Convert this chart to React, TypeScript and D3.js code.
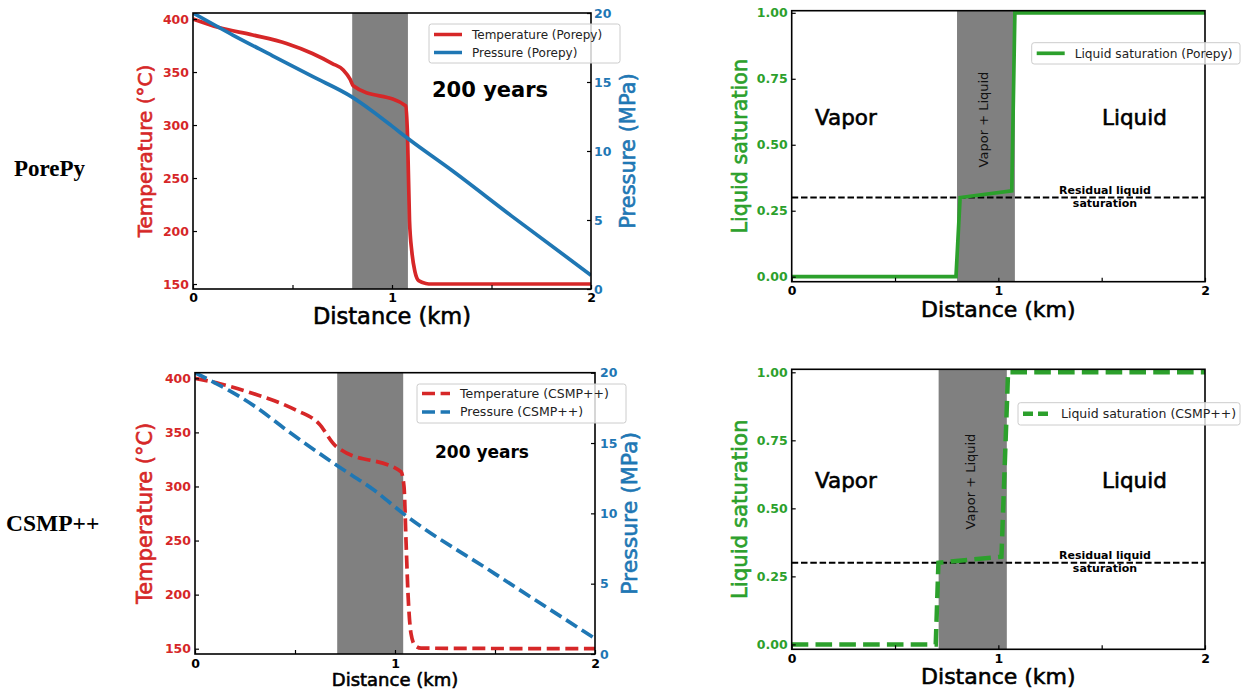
import React, { useEffect, useRef } from 'react';
import * as d3 from 'd3';

// distance along the profile (km) and values
const tempDistPorepy = [0, 0.13, 0.3, 0.47, 0.6, 0.7, 0.755, 0.79, 0.805, 1.07, 1.078, 1.088, 1.1, 1.115, 1.135, 1.17, 1.2, 2.0];
const tempPorepy = [400, 392, 385, 377, 367.5, 358, 352, 343, 337, 318, 290, 210, 180, 162, 153, 150.5, 150, 150];
const presDistPorepy = [0, 0.2, 0.4, 0.6, 0.8, 0.9, 1.0, 1.08, 1.3, 1.6, 2.0];
const presPorepy = [20, 18.4, 16.9, 15.4, 13.9, 12.9, 11.8, 10.9, 8.6, 5.3, 1.0];

const tempDistCsmp = [0, 0.125, 0.29, 0.5, 0.62, 0.7, 0.73, 1.03, 1.045, 1.055, 1.065, 1.08, 1.1, 1.13, 2.0];
const tempCsmp = [400, 395, 386, 371, 358, 338, 334, 313.6, 300, 250, 201, 164, 153, 150.5, 150];
const presDistCsmp = [0, 0.3, 0.46, 0.71, 0.9, 1.04, 1.5, 2.0];
const presCsmp = [20, 17.6, 15.9, 13.4, 11.6, 10.0, 5.7, 1.1];

const satDistPorepy = [0, 0.795, 0.815, 1.065, 1.08, 2.0];
const satPorepy = [0, 0, 0.3, 0.325, 1.0, 1.0];
const satDistCsmp = [0, 0.697, 0.71, 1.015, 1.047, 2.0];
const satCsmp = [0, 0, 0.3, 0.322, 1.0, 1.0];

// two-phase (vapor + liquid) zone, km
const twoPhasePorepy = [0.8, 1.08];
const twoPhaseCsmp = [0.711, 1.041];
const residualSat = 0.3;

const distTicks = [0, 0.5, 1, 1.5, 2];
const distTickLabels = ['0', '', '1', '', '2'];
const tempTicks = [150, 200, 250, 300, 350, 400];
const presTicks = [0, 5, 10, 15, 20];
const satTicks = [0, 0.25, 0.5, 0.75, 1];

const RED = '#d62728';
const BLUE = '#1f77b4';
const GREEN = '#2ca02c';
const FONT = 'DejaVu Sans, sans-serif';

const zip = (xs, ys) => xs.map((d, i) => [d, ys[i]]);

// heavier look for the big labels (source is a downscaled raster)
const heavy = (sel, color, w = 0.6) =>
  sel.attr('fill', color).attr('stroke', color).attr('stroke-width', w).attr('paint-order', 'stroke');

function spinesAndDist(g, x, o) {
  const ax = g.append('g').attr('transform', `translate(0,${o.bottom})`)
    .call(d3.axisBottom(x).tickValues(distTicks).tickSize(-4).tickPadding(o.xPad)
      .tickFormat((d, i) => distTickLabels[i]));
  ax.select('.domain').remove();
  ax.selectAll('line').attr('stroke', '#000').attr('stroke-width', 1.2);
  ax.selectAll('text').attr('fill', '#000').style('font', `bold 12.5px ${FONT}`);
  g.append('rect').attr('x', o.left).attr('y', o.top)
    .attr('width', o.right - o.left).attr('height', o.bottom - o.top)
    .attr('fill', 'none').attr('stroke', '#000').attr('stroke-width', 1.6);
  heavy(g.append('text').attr('x', (o.left + o.right) / 2).attr('y', o.xLabelY)
    .attr('text-anchor', 'middle').style('font', `${o.xLabelSize}px ${FONT}`), '#000')
    .text('Distance (km)');
}

function legend(g, o, items) {
  g.append('rect').attr('x', o.lx).attr('y', o.ly).attr('width', o.lw).attr('height', o.lh)
    .attr('rx', 2.5).attr('fill', '#fff').attr('fill-opacity', 0.8)
    .attr('stroke', '#cccccc').attr('stroke-width', 1);
  items.forEach((it, i) => {
    const cy = o.ly + o.lFirst + i * o.lStep;
    g.append('line').attr('x1', o.lx + 5).attr('x2', o.lx + 33).attr('y1', cy).attr('y2', cy)
      .attr('stroke', it.color).attr('stroke-width', it.width)
      .attr('stroke-dasharray', it.dash || null);
    g.append('text').attr('x', o.lx + 43).attr('y', cy).attr('dy', '0.35em')
      .style('font', `${o.lFont}px ${FONT}`).attr('fill', '#222').text(it.label);
  });
}

function drawThermal(svg, o) {
  const g = svg.append('g');
  const x = d3.scaleLinear().domain([0, 2]).range([o.left, o.right]);
  const yT = d3.scaleLinear().domain(o.tDomain).range([o.bottom, o.top]);
  const yP = d3.scaleLinear().domain([0, 20]).range([o.bottom, o.top]);

  g.append('clipPath').attr('id', o.id).append('rect')
    .attr('x', o.left).attr('y', o.top).attr('width', o.right - o.left).attr('height', o.bottom - o.top);

  g.append('rect').attr('x', x(o.band[0])).attr('y', o.top)
    .attr('width', x(o.band[1]) - x(o.band[0])).attr('height', o.bottom - o.top).attr('fill', '#808080');

  const plot = g.append('g').attr('clip-path', `url(#${o.id})`);
  plot.append('path').datum(zip(o.tDist, o.temp))
    .attr('d', d3.line().x(d => x(d[0])).y(d => yT(d[1])).curve(d3.curveMonotoneX))
    .attr('fill', 'none').attr('stroke', RED).attr('stroke-width', 3.7)
    .attr('stroke-dasharray', o.dash || null);
  plot.append('path').datum(zip(o.pDist, o.pres))
    .attr('d', d3.line().x(d => x(d[0])).y(d => yP(d[1])).curve(d3.curveMonotoneX))
    .attr('fill', 'none').attr('stroke', BLUE).attr('stroke-width', 3.7)
    .attr('stroke-dasharray', o.dash || null);

  const ay = g.append('g').attr('transform', `translate(${o.left},0)`)
    .call(d3.axisLeft(yT).tickValues(tempTicks).tickSize(-4).tickPadding(4));
  ay.select('.domain').remove();
  ay.selectAll('line').attr('stroke', '#000').attr('stroke-width', 1.2);
  ay.selectAll('text').attr('fill', RED).style('font', `bold 12.5px ${FONT}`);

  const ap = g.append('g').attr('transform', `translate(${o.right},0)`)
    .call(d3.axisRight(yP).tickValues(presTicks).tickSize(-4).tickPadding(o.rPad));
  ap.select('.domain').remove();
  ap.selectAll('line').attr('stroke', '#000').attr('stroke-width', 1.2);
  ap.selectAll('text').attr('fill', BLUE).style('font', `bold 12.5px ${FONT}`);

  spinesAndDist(g, x, o);

  const cy = (o.top + o.bottom) / 2;
  heavy(g.append('text').attr('transform', `translate(${o.tLabelX},${cy}) rotate(-90)`)
    .attr('text-anchor', 'middle').style('font', `${o.tLabelSize}px ${FONT}`), RED)
    .text('Temperature (°C)');
  heavy(g.append('text').attr('transform', `translate(${o.pLabelX},${cy}) rotate(-90)`)
    .attr('text-anchor', 'middle').style('font', `${o.pLabelSize}px ${FONT}`), BLUE)
    .text('Pressure (MPa)');

  g.append('text').attr('x', o.yearsX).attr('y', o.yearsY)
    .style('font', `bold ${o.yearsSize}px ${FONT}`).attr('fill', '#000').text('200 years');

  legend(g, o, [
    { label: `Temperature (${o.model})`, color: RED, width: 3.5, dash: o.dash },
    { label: `Pressure (${o.model})`, color: BLUE, width: 3.5, dash: o.dash },
  ]);
}

function drawSaturation(svg, o) {
  const g = svg.append('g');
  const x = d3.scaleLinear().domain([0, 2]).range([o.left, o.right]);
  const y = d3.scaleLinear().domain(o.sDomain).range([o.bottom, o.top]);

  g.append('clipPath').attr('id', o.id).append('rect')
    .attr('x', o.left).attr('y', o.top).attr('width', o.right - o.left).attr('height', o.bottom - o.top);

  g.append('rect').attr('x', x(o.band[0])).attr('y', o.top)
    .attr('width', x(o.band[1]) - x(o.band[0])).attr('height', o.bottom - o.top).attr('fill', '#808080');

  g.append('line').attr('x1', o.left).attr('x2', o.right)
    .attr('y1', y(residualSat)).attr('y2', y(residualSat))
    .attr('stroke', '#000').attr('stroke-width', 1.8).attr('stroke-dasharray', '6.5,2.8');

  const plot = g.append('g').attr('clip-path', `url(#${o.id})`);
  plot.append('path').datum(zip(o.sDist, o.sat))
    .attr('d', d3.line().x(d => x(d[0])).y(d => y(d[1])))
    .attr('fill', 'none').attr('stroke', GREEN).attr('stroke-width', o.lineW)
    .attr('stroke-dasharray', o.dash || null);

  const ay = g.append('g').attr('transform', `translate(${o.left},0)`)
    .call(d3.axisLeft(y).tickValues(satTicks).tickSize(-4).tickPadding(4).tickFormat(d3.format('.2f')));
  ay.select('.domain').remove();
  ay.selectAll('line').attr('stroke', '#000').attr('stroke-width', 1.2);
  ay.selectAll('text').attr('fill', GREEN).style('font', `bold 12.5px ${FONT}`);

  spinesAndDist(g, x, o);

  heavy(g.append('text').attr('transform', `translate(${o.sLabelX},${(o.top + o.bottom) / 2}) rotate(-90)`)
    .attr('text-anchor', 'middle').style('font', `${o.sLabelSize}px ${FONT}`), GREEN)
    .text('Liquid saturation');

  heavy(g.append('text').attr('x', 815).attr('y', o.phaseY).style('font', `21.5px ${FONT}`), '#000')
    .text('Vapor');
  heavy(g.append('text').attr('x', 1102).attr('y', o.phaseY).style('font', `21.5px ${FONT}`), '#000')
    .text('Liquid');
  g.append('text').attr('transform', `translate(${o.mixX},${o.mixY}) rotate(-90)`)
    .attr('text-anchor', 'middle').style('font', `13px ${FONT}`).attr('fill', '#111')
    .text('Vapor + Liquid');

  const ry = y(residualSat);
  g.append('text').attr('x', 1105).attr('y', ry - 3.5).attr('text-anchor', 'middle')
    .style('font', `bold 11px ${FONT}`).text('Residual liquid');
  g.append('text').attr('x', 1105).attr('y', ry + 9.5).attr('text-anchor', 'middle')
    .style('font', `bold 11px ${FONT}`).text('saturation');

  legend(g, o, [{ label: `Liquid saturation (${o.model})`, color: GREEN, width: o.lineW, dash: o.legendDash || o.dash }]);
}

export default function App() {
  const ref = useRef(null);

  useEffect(() => {
    const svg = d3.select(ref.current);
    svg.selectAll('*').remove();

    drawThermal(svg, {
      id: 'clipTL', model: 'Porepy', left: 193, right: 591, top: 13, bottom: 289,
      tDomain: [145.3, 405.7], band: twoPhasePorepy,
      tDist: tempDistPorepy, temp: tempPorepy, pDist: presDistPorepy, pres: presPorepy,
      xPad: 4, rPad: 3, xLabelY: 324, xLabelSize: 22.5,
      tLabelX: 152, tLabelSize: 20, pLabelX: 635, pLabelSize: 21,
      yearsX: 432, yearsY: 97, yearsSize: 21,
      lx: 429, ly: 24, lw: 191, lh: 39, lFirst: 10.5, lStep: 18, lFont: 12,
    });

    drawThermal(svg, {
      id: 'clipBL', model: 'CSMP++', left: 195, right: 595, top: 372.7, bottom: 654,
      tDomain: [145.1, 405.2], band: twoPhaseCsmp, dash: '13,5.6',
      tDist: tempDistCsmp, temp: tempCsmp, pDist: presDistCsmp, pres: presCsmp,
      xPad: 5, rPad: 5, xLabelY: 686, xLabelSize: 18,
      tLabelX: 152, tLabelSize: 21, pLabelX: 637, pLabelSize: 22,
      yearsX: 435, yearsY: 458, yearsSize: 17,
      lx: 417, ly: 384, lw: 209, lh: 39, lFirst: 9.5, lStep: 18.4, lFont: 12.5,
    });

    drawSaturation(svg, {
      id: 'clipTR', model: 'Porepy', left: 791.7, right: 1205, top: 10.7, bottom: 281.7,
      sDomain: [-0.019, 1.008], band: twoPhasePorepy, lineW: 3.7,
      sDist: satDistPorepy, sat: satPorepy,
      xPad: 4, xLabelY: 317, xLabelSize: 22, sLabelX: 747, sLabelSize: 20.7,
      phaseY: 125, mixX: 988, mixY: 119.5,
      lx: 1031.7, ly: 42.7, lw: 208.3, lh: 21.3, lFirst: 10.6, lStep: 0, lFont: 12.2,
    });

    drawSaturation(svg, {
      id: 'clipBR', model: 'CSMP++', left: 791.7, right: 1205, top: 369.3, bottom: 649.3,
      sDomain: [-0.018, 1.011], band: twoPhaseCsmp, lineW: 4.5, dash: '16.6,7.2', legendDash: '10,5',
      sDist: satDistCsmp, sat: satCsmp,
      xPad: 5, xLabelY: 684, xLabelSize: 22, sLabelX: 747, sLabelSize: 21.3,
      phaseY: 488, mixX: 975.3, mixY: 481.5,
      lx: 1018, ly: 402.7, lw: 222, lh: 22.3, lFirst: 11, lStep: 0, lFont: 12.5,
    });

    svg.append('text').attr('x', 14).attr('y', 176)
      .style('font', 'bold 23px "Liberation Serif", serif').text('PorePy');
    svg.append('text').attr('x', 6).attr('y', 531)
      .style('font', 'bold 23.5px "Liberation Serif", serif').text('CSMP++');
  }, []);

  return (
    <svg ref={ref} width={1251} height={695}
      style={{ position: 'absolute', left: 0, top: 0, background: '#fff' }} />
  );
}
